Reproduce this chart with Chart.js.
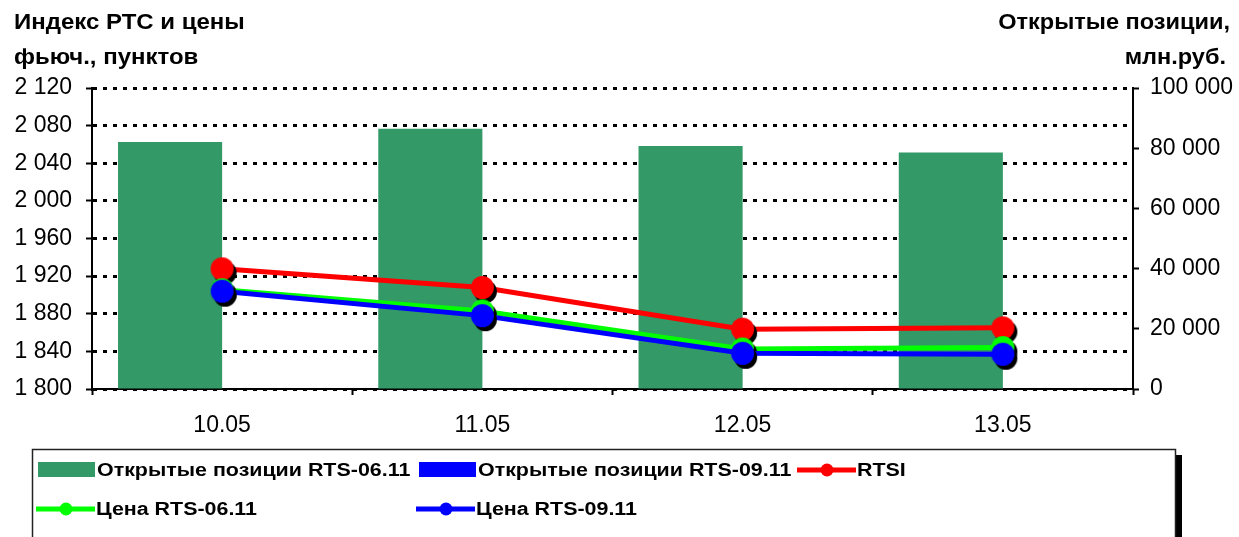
<!DOCTYPE html>
<html>
<head>
<meta charset="utf-8">
<script src="https://cdn.jsdelivr.net/npm/chart.js@4"></script>
<style>
  html, body { margin: 0; padding: 0; background: #fff; }
  canvas { display: block; }
</style>
</head>
<body>
<canvas id="chart" width="1239" height="537"></canvas>
<script>
// данные
const categories = ['10.05', '11.05', '12.05', '13.05'];
const oiRts0611 = [82100, 86500, 80700, 78600];     // млн.руб.
const oiRts0911 = [0, 0, 0, 0];                     // на графике не видно
const rtsi = [1927.8, 1907.9, 1863.6, 1865];
const priceRts0611 = [1905.5, 1883, 1842.5, 1844];
const priceRts0911 = [1904, 1878, 1838, 1837];

const leftTitle = ['Индекс РТС и цены', 'фьюч., пунктов'];
const rightTitle = ['Открытые позиции,', 'млн.руб.'];

const FONT = '"Liberation Sans", Arial, sans-serif';

// кружок маркера с черной тенью
function makeMarker(color) {
    const r = 11.5, dx = 3, dy = 4;
    const size = 2 * (r + 5);
    const c = document.createElement('canvas');
    c.width = size; c.height = size;
    const g = c.getContext('2d');
    g.fillStyle = '#000';
    g.beginPath(); g.arc(size / 2 + dx, size / 2 + dy, r, 0, Math.PI * 2); g.fill();
    g.fillStyle = color;
    g.beginPath(); g.arc(size / 2, size / 2, r, 0, Math.PI * 2); g.fill();
    return c;
}

function fmt(v) {
    return String(v).replace(/\B(?=(\d{3})+(?!\d))/g, ' ');
}

// позиции элементов легенды
const legendSlots = [
    { x: 38, y: 470 }, { x: 419, y: 470 }, { x: 798, y: 470 },
    { x: 37, y: 509 }, { x: 417, y: 509 }
];

function stretchedText(ctx, text, x, y, sx) {
    ctx.save();
    ctx.translate(x, y);
    ctx.scale(sx, 1);
    ctx.fillText(text, 0, 0);
    ctx.restore();
}

const extrasPlugin = {
    id: 'extras',
    afterDraw(chart) {
        const ctx = chart.ctx;
        ctx.save();
        // заголовки осей
        ctx.fillStyle = '#000';
        ctx.font = 'bold 22px ' + FONT;
        ctx.textBaseline = 'alphabetic';
        ctx.textAlign = 'left';
        stretchedText(ctx, leftTitle[0], 14, 29, 1.09);
        stretchedText(ctx, leftTitle[1], 14, 64, 1.09);
        ctx.textAlign = 'right';
        stretchedText(ctx, rightTitle[0], 1230, 29, 1.07);
        stretchedText(ctx, rightTitle[1], 1226, 64, 1.07);

        // рамка легенды
        ctx.fillStyle = '#000';
        ctx.fillRect(1176, 455, 6, 90);
        ctx.fillStyle = '#fff';
        ctx.fillRect(32, 449, 1143, 100);
        ctx.strokeStyle = '#222';
        ctx.lineWidth = 1.5;
        ctx.strokeRect(32.5, 449.5, 1143, 100);

        // элементы легенды
        ctx.font = 'bold 18px ' + FONT;
        chart.data.datasets.forEach((ds, i) => {
            const s = legendSlots[i];
            if (ds.type === 'bar') {
                ctx.fillStyle = ds.backgroundColor;
                ctx.fillRect(s.x, s.y - 8, 57, 15);
            } else {
                ctx.strokeStyle = ds.borderColor;
                ctx.lineWidth = 5;
                ctx.beginPath();
                ctx.moveTo(s.x - 1, s.y);
                ctx.lineTo(s.x + 58, s.y);
                ctx.stroke();
                ctx.fillStyle = ds.borderColor;
                ctx.beginPath();
                ctx.arc(s.x + 29, s.y, 6.5, 0, Math.PI * 2);
                ctx.fill();
            }
            ctx.fillStyle = '#000';
            ctx.textAlign = 'left';
            stretchedText(ctx, ds.label, s.x + 59, s.y + 6, 1.19);
        });
        ctx.restore();
    }
};

const tickFont = { family: FONT, size: 23 };

new Chart(document.getElementById('chart'), {
    data: {
        labels: categories,
        datasets: [
            {
                type: 'bar', label: 'Открытые позиции RTS-06.11', data: oiRts0611,
                backgroundColor: '#339966', yAxisID: 'y1', order: 9,
                categoryPercentage: 0.8, barPercentage: 1.0
            },
            {
                type: 'bar', label: 'Открытые позиции RTS-09.11', data: oiRts0911,
                backgroundColor: '#0000ff', yAxisID: 'y1', order: 10,
                categoryPercentage: 0.8, barPercentage: 1.0
            },
            {
                type: 'line', label: 'RTSI', data: rtsi,
                borderColor: '#ff0000', borderWidth: 5, yAxisID: 'y', order: 3,
                pointStyle: makeMarker('#ff0000'), tension: 0
            },
            {
                type: 'line', label: 'Цена RTS-06.11', data: priceRts0611,
                borderColor: '#00ff00', borderWidth: 5, yAxisID: 'y', order: 2,
                pointStyle: makeMarker('#00ff00'), tension: 0
            },
            {
                type: 'line', label: 'Цена RTS-09.11', data: priceRts0911,
                borderColor: '#0000ff', borderWidth: 5, yAxisID: 'y', order: 1,
                pointStyle: makeMarker('#0000ff'), tension: 0
            }
        ]
    },
    options: {
        responsive: false,
        animation: false,
        devicePixelRatio: 1,
        layout: { padding: { left: 0, right: 0, top: 88, bottom: 98 } },
        plugins: { legend: { display: false }, tooltip: { enabled: false } },
        scales: {
            x: {
                type: 'category',
                offset: true,
                grid: { offset: true, drawOnChartArea: false, tickLength: 6, tickColor: '#000', tickWidth: 2 },
                border: { color: '#000', width: 2 },
                ticks: { color: '#000', font: tickFont, padding: 17, maxRotation: 0 },
                afterFit: s => { s.height = 50; }
            },
            y: {
                position: 'left',
                min: 1800, max: 2120,
                ticks: { stepSize: 40, color: '#000', font: tickFont, padding: 14, callback: v => fmt(v) },
                grid: { color: '#000', lineWidth: 3, tickLength: 6, tickColor: '#000', tickWidth: 2 },
                border: { color: '#000', width: 2, dash: [4, 6] },
                afterFit: s => { s.width = 92; }
            },
            y1: {
                position: 'right',
                min: 0, max: 100000,
                ticks: { stepSize: 20000, color: '#000', font: tickFont, padding: 11, callback: v => fmt(v) },
                grid: { drawOnChartArea: false, tickLength: 6, tickColor: '#000', tickWidth: 2 },
                border: { color: '#000', width: 2 },
                afterFit: s => { s.width = 106; }
            }
        }
    },
    plugins: [extrasPlugin]
});
</script>
</body>
</html>
